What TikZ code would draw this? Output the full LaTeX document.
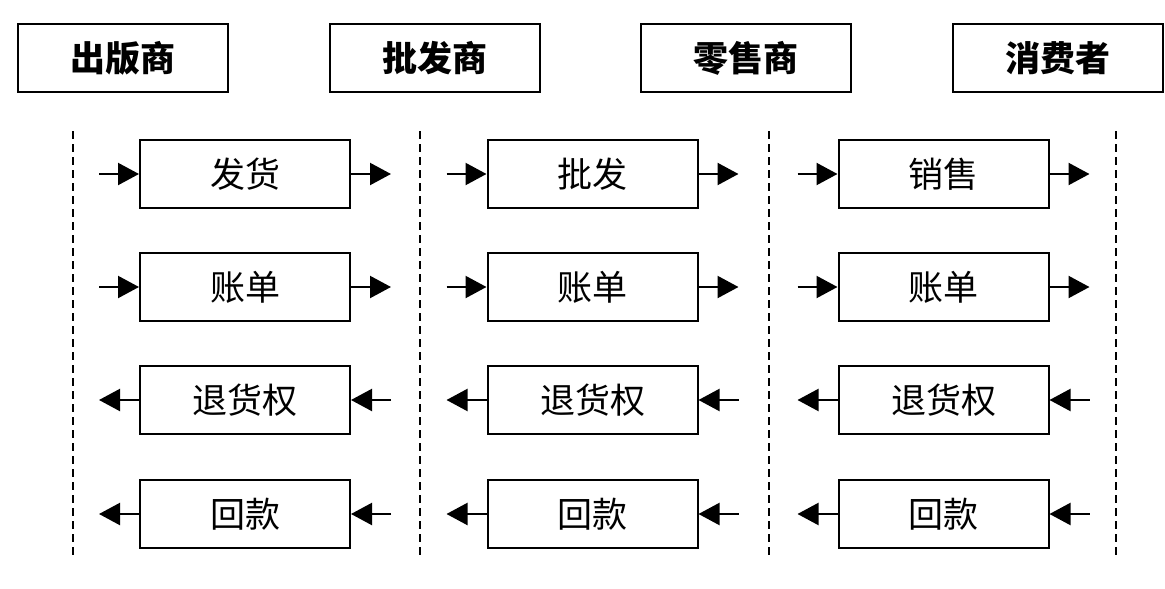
\documentclass[tikz,border=0pt]{standalone}
\usepackage{fontspec}
\setmainfont{Noto Sans CJK SC}
\usetikzlibrary{arrows.meta,positioning}
\begin{document}
\begin{tikzpicture}[x=1pt,y=-1pt,line join=miter,>={Triangle[length=21pt,width=22pt]},
  role/.style={draw,line width=2.2pt,minimum width=210pt,minimum height=68pt,inner sep=0pt,font=\fontsize{35}{40}\selectfont\bfseries},
  task/.style={draw,line width=2pt,minimum width=210pt,minimum height=68pt,inner sep=0pt,font=\fontsize{35}{40}\selectfont},
  flow/.style={->,line width=2.2pt},
  border/.style={line width=2pt,dash pattern=on 8pt off 5pt}]
\useasboundingbox (0,0) rectangle (1165,589);
% parties
\node[role] (pub) at (123,58) {出版商};
\node[role] (whl) at (435,58) {批发商};
\node[role] (shop) at (746,58) {零售商};
\node[role] (cons) at (1058,58) {消费者};
% dashed borders
\foreach \i/\x in {1/72.5,2/420,3/769,4/1116}{
  \coordinate (top\i) at (\x,131);
  \coordinate (bot\i) at (\x,559);
  \draw[border] (top\i) -- (bot\i);
}
% publisher -> wholesaler
\node[task] (ship1) at (245,174) {发货};
\node[task] (bill1) at (245,287) {账单};
\node[task] (rtn1) at (245,400) {退货权};
\node[task] (pay1) at (245,514) {回款};
% wholesaler -> retailer
\node[task] (ship2) at (592.5,174) {批发};
\node[task] (bill2) at (592.5,287) {账单};
\node[task] (rtn2) at (592.5,400) {退货权};
\node[task] (pay2) at (592.5,514) {回款};
% retailer -> consumer
\node[task] (ship3) at (943.5,174) {销售};
\node[task] (bill3) at (943.5,287) {账单};
\node[task] (rtn3) at (943.5,400) {退货权};
\node[task] (pay3) at (943.5,514) {回款};
% arrows
\foreach \c in {1,2,3}{
  \foreach \r in {ship,bill,rtn,pay}{
    \coordinate[left=40pt of \r\c.west] (\r\c-l);
    \coordinate[right=40pt of \r\c.east] (\r\c-r);
  }
  \draw[flow] (ship\c-l) -- (ship\c.west);
  \draw[flow] (ship\c.east) -- (ship\c-r);
  \draw[flow] (bill\c-l) -- (bill\c.west);
  \draw[flow] (bill\c.east) -- (bill\c-r);
  \draw[flow] (rtn\c.west) -- (rtn\c-l);
  \draw[flow] (rtn\c-r) -- (rtn\c.east);
  \draw[flow] (pay\c.west) -- (pay\c-l);
  \draw[flow] (pay\c-r) -- (pay\c.east);
}
\end{tikzpicture}
\end{document}
